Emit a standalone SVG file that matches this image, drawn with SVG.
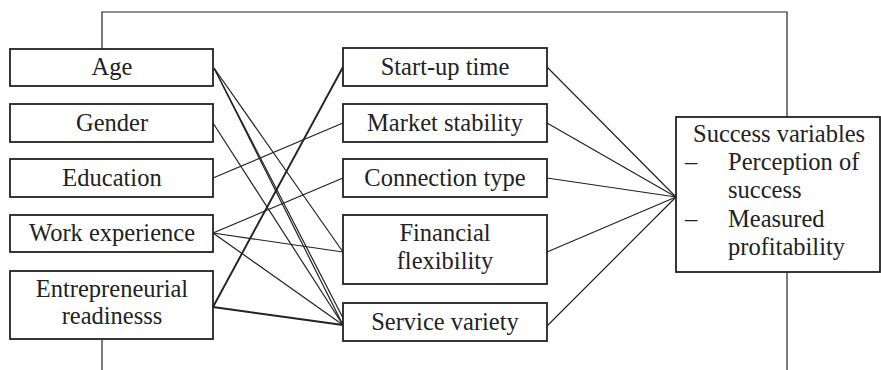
<svg xmlns="http://www.w3.org/2000/svg" width="881" height="370" viewBox="0 0 881 370">
<style>
.box{fill:#fff;stroke:#222;stroke-width:1.8}
.ln{fill:none;stroke:#222;stroke-width:1.2}
.thick{stroke-width:1.9}
.t{font-family:'Liberation Serif','Tinos','Times New Roman','DejaVu Serif',serif;font-size:24.5px;fill:#222}
.c{text-anchor:middle}
</style>
<rect width="881" height="370" fill="#fff"/>
<g id="connectors">
<polyline class="ln" points="102,49 102,12 787,12 787,117"/>
<line class="ln" x1="102" y1="339" x2="102" y2="370"/>
<line class="ln" x1="787" y1="272" x2="787" y2="370"/>
<line class="ln" x1="214" y1="68" x2="343" y2="252"/>
<line class="ln" x1="214" y1="68" x2="343" y2="325"/>
<line class="ln" x1="214" y1="68" x2="343" y2="318"/>
<line class="ln" x1="213" y1="123" x2="343" y2="325"/>
<line class="ln" x1="213" y1="178" x2="343" y2="123"/>
<line class="ln" x1="213" y1="233" x2="343" y2="178"/>
<line class="ln" x1="213" y1="233" x2="343" y2="252"/>
<line class="ln" x1="213" y1="233" x2="343" y2="325"/>
<line class="ln thick" x1="213" y1="307" x2="343" y2="67"/>
<line class="ln thick" x1="213" y1="307" x2="343" y2="325"/>
<line class="ln" x1="547" y1="67" x2="676" y2="197"/>
<line class="ln" x1="547" y1="123" x2="676" y2="197"/>
<line class="ln" x1="547" y1="178" x2="676" y2="197"/>
<line class="ln" x1="547" y1="252" x2="676" y2="197"/>
<line class="ln" x1="547" y1="326" x2="676" y2="197"/>
</g>
<g id="age"><rect class="box" x="10" y="49" width="203" height="37"/><text class="t c" x="112" y="75">Age</text></g>
<g id="gender"><rect class="box" x="10" y="104" width="203" height="38"/><text class="t c" x="112" y="131">Gender</text></g>
<g id="education"><rect class="box" x="10" y="159" width="203" height="38"/><text class="t c" x="112" y="186">Education</text></g>
<g id="work-experience"><rect class="box" x="10" y="215" width="203" height="37"/><text class="t c" x="112" y="241">Work experience</text></g>
<g id="entrepreneurial-readiness"><rect class="box" x="10" y="271" width="203" height="68"/><text class="t c" x="112" y="297">Entrepreneurial</text><text class="t c" x="112" y="324">readinesss</text></g>
<g id="start-up-time"><rect class="box" x="343" y="48" width="204" height="38"/><text class="t c" x="445" y="75">Start-up time</text></g>
<g id="market-stability"><rect class="box" x="343" y="104" width="204" height="38"/><text class="t c" x="445" y="131">Market stability</text></g>
<g id="connection-type"><rect class="box" x="343" y="159" width="204" height="38"/><text class="t c" x="445" y="186">Connection type</text></g>
<g id="financial-flexibility"><rect class="box" x="343" y="215" width="204" height="69"/><text class="t c" x="445" y="241">Financial</text><text class="t c" x="445" y="269">flexibility</text></g>
<g id="service-variety"><rect class="box" x="343" y="303" width="204" height="38"/><text class="t c" x="445" y="330">Service variety</text></g>
<g id="success-variables"><rect class="box" x="676" y="117" width="204" height="155"/>
<text class="t" x="693" y="142">Success variables</text>
<text class="t" x="685" y="170">–</text><text class="t" x="728" y="170">Perception of</text>
<text class="t" x="728" y="198">success</text>
<text class="t" x="685" y="227">–</text><text class="t" x="728" y="227">Measured</text>
<text class="t" x="728" y="255">profitability</text>
</g>
</svg>
